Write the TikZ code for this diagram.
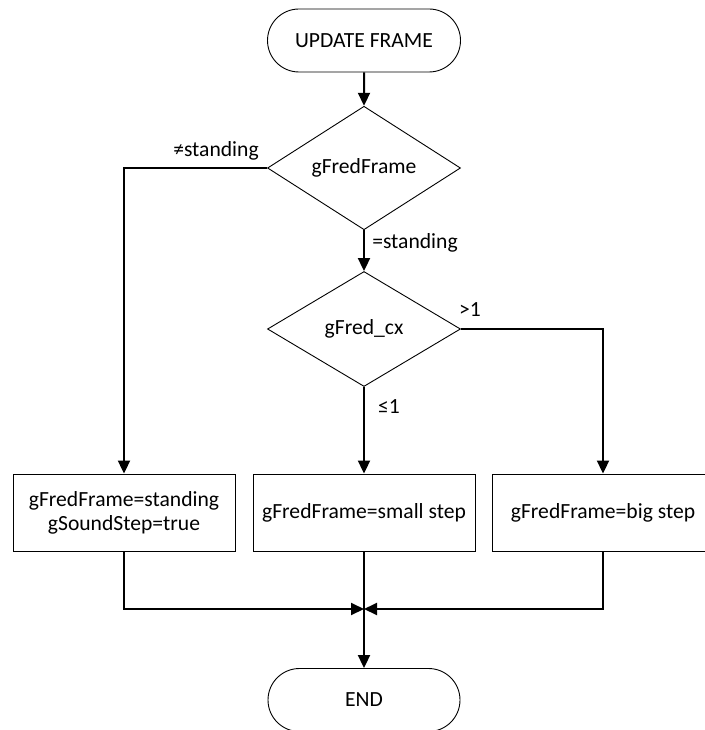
\documentclass[tikz,border=0pt]{standalone}
\usepackage{fontspec}
\setmainfont{Carlito}
\usetikzlibrary{shapes.geometric,shapes.misc,arrows.meta}
\begin{document}
\begin{tikzpicture}[x=1pt,y=-1pt,
  every node/.style={font=\fontsize{21.6}{24}\selectfont, inner sep=0pt},
  term/.style={draw, rounded rectangle, minimum width=193pt, minimum height=63pt, line width=0.9pt},
  decision/.style={draw, diamond, minimum width=193pt, minimum height=115pt, line width=0.9pt},
  proc/.style={draw, rectangle, minimum width=222pt, minimum height=77pt, line width=0.9pt, align=center},
  flow/.style={line width=2pt, -{Triangle[length=13pt,width=12pt]}},
  plain/.style={line width=2pt}
]
\useasboundingbox (0,0) rectangle (704,730);
\node[term] (start) at (364,40.5) {UPDATE FRAME};
\node[decision] (d1) at (364,168) {gFredFrame};
\node[decision] (d2) at (364,329) {gFred\_cx};
\node[proc] (b1) at (124,512.5) {gFredFrame=standing\\gSoundStep=true};
\node[proc] (b2) at (364,512.5) {gFredFrame=small step};
\node[proc] (b3) at (603,512.5) {gFredFrame=big step};
\node[term, minimum width=192pt] (stop) at (364,700) {END};
\coordinate (m) at (364,609);

\draw[flow] (start) -- (d1);
\draw[flow] (d1.west) -| (b1.north);
\draw[flow] (d1.south) -- (d2.north);
\draw[flow] (d2.east) -| (b3.north);
\draw[flow] (d2.south) -- (b2.north);
\draw[flow] (b1.south) |- (m);
\draw[flow] (b3.south) |- (m);
\draw[flow] (b2.south) -- (stop.north);

\node (l1) at (216,151) {≠standing};
\node (l2) at (415,243) {=standing};
\node (l3) at (470,310) {>1};
\node (l4) at (389,407) {≤1};
\end{tikzpicture}
\end{document}
